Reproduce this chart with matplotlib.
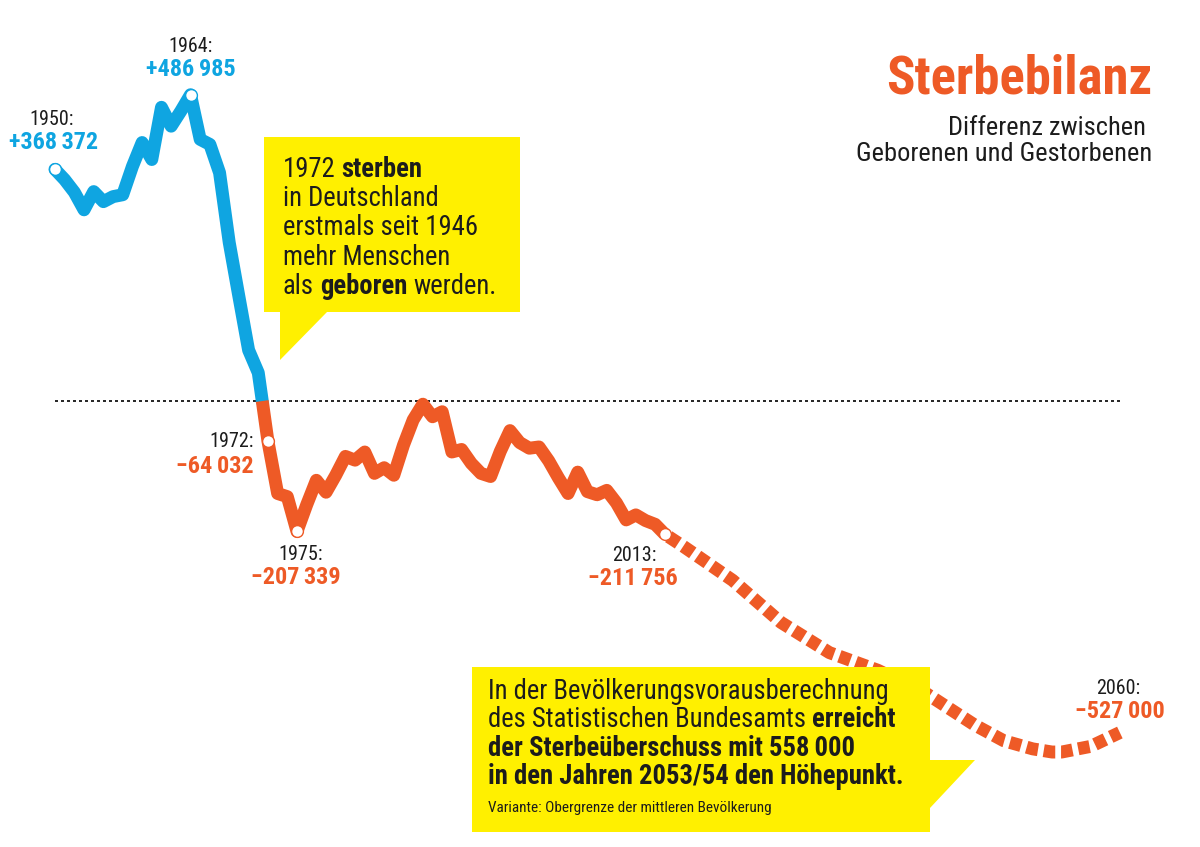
import matplotlib
matplotlib.use("Agg")
import matplotlib.pyplot as plt
from matplotlib import font_manager
from matplotlib.patches import Polygon
import numpy as np

# Daten: Geborene minus Gestorbene
years = list(range(1950, 2014))
saldo = [368372, 352000, 332000, 304000, 333000, 317000, 325000, 328000, 373000, 411000,
         384000, 467000, 437000, 461000, 486985, 416000, 408000, 363000, 252000, 166000,
         81000, 45000, -64032, -147000, -152000, -207339, -165000, -126000, -145000, -118000,
         -88000, -94000, -81000, -115000, -106000, -118000, -70000, -30000, -5000, -25000,
         -17000, -81000, -77000, -99000, -115000, -120000, -80000, -47000, -66000, -75000,
         -73000, -95000, -122000, -147000, -113000, -144000, -149000, -142000, -162000, -189000,
         -181000, -190000, -196000, -211756]

proj_years = [2013, 2015, 2020, 2025, 2030, 2035, 2040, 2045, 2048, 2051, 2053, 2054, 2057, 2060]
proj_vals = [-211756, -232000, -285000, -352000, -400000, -428000, -465000, -515000,
             -540000, -553000, -558000, -558000, -549000, -527000]

dot_years = [1950, 1964, 1972, 1975, 2013]
label_years = [1950, 1964, 1972, 1975, 2013, 2060]

BLUE = "#0FA5E1"
ORANGE = "#EE5A26"
YELLOW = "#FFF000"
INK = "#1c1c1c"

names = {f.name for f in font_manager.fontManager.ttflist}
FONT = next((f for f in ["Liberation Sans Narrow", "Roboto Condensed", "Liberation Sans"] if f in names), "DejaVu Sans")
plt.rcParams["font.family"] = [FONT, "DejaVu Sans"]

W, H = 1200, 847
fig = plt.figure(figsize=(12, 8.47), dpi=100)
ax = fig.add_axes([0, 0, 1, 1])
ax.set_xlim(1944.32, 2068.28)
ax.set_ylim(-709000, 637600)
ax.axis("off")

yrs = np.array(years)
vals = np.array(saldo, dtype=float)

# Nulldurchgang 1971/72
i = np.where(vals < 0)[0][0]
x0 = yrs[i - 1] + vals[i - 1] / (vals[i - 1] - vals[i])
bx = np.r_[yrs[:i], x0]
by = np.r_[vals[:i], 0]
ox = np.r_[x0, yrs[i:]]
oy = np.r_[0, vals[i:]]

LW = 9.3
ax.plot([years[0], proj_years[-1]], [0, 0], color="black", lw=1.2,
        linestyle=(0, (1.8, 1.8)), zorder=1)

ax.plot(proj_years, proj_vals, color=ORANGE, lw=LW, linestyle=(1.0, (0.9, 0.45)),
        dash_capstyle="butt", zorder=2)
ax.plot(bx, by, color=BLUE, lw=LW, solid_capstyle="round", solid_joinstyle="round", zorder=3)
ax.plot(ox, oy, color=ORANGE, lw=LW, solid_capstyle="butt", solid_joinstyle="round", zorder=3)

for y in dot_years:
    v = saldo[years.index(y)]
    ax.plot(y, v, "o", ms=8.5, mfc="white", mec=BLUE if v > 0 else ORANGE, mew=1.0, zorder=4)


def fmt(v):
    s = f"{abs(v):,}".replace(",", "\u2009")
    return ("+" if v > 0 else "\u2212") + s


# Offsets (px) fuer Jahr und Wert
offsets = {
    1950: ((-3, 50, "center"), (-1, 27, "center")),
    1964: ((0, 48, "center"), (0, 25, "center")),
    1972: ((-14, 0, "right"), (-14, -25, "right")),
    1975: ((4, -23, "center"), (-1, -46, "center")),
    2013: ((-8, -21, "right"), (-32, -44, "center")),
    2060: ((-2, 44, "center"), (0, 21, "center")),
}
for y in label_years:
    v = saldo[years.index(y)] if y in years else proj_vals[proj_years.index(y)]
    (dx1, dy1, ha1), (dx2, dy2, ha2) = offsets[y]
    ax.annotate(f"{y}:", (y, v), xytext=(dx1, dy1), textcoords="offset pixels",
                ha=ha1, va="center", fontsize=14.5, color=INK)
    ax.annotate(fmt(v), (y, v), xytext=(dx2, dy2), textcoords="offset pixels",
                ha=ha2, va="center", fontsize=17.5, fontweight="bold",
                color=BLUE if v > 0 else ORANGE)


def P(x, y):
    return (x / W, 1 - y / H)


ax.text(*P(1152, 93), "Sterbebilanz", transform=ax.transAxes, ha="right", va="baseline",
        fontsize=38, fontweight="bold", color=ORANGE)
ax.text(*P(1146, 135), "Differenz zwischen", transform=ax.transAxes, ha="right",
        va="baseline", fontsize=19, color=INK)
ax.text(*P(1152, 161), "Geborenen und Gestorbenen", transform=ax.transAxes, ha="right",
        va="baseline", fontsize=19, color=INK)

# Sprechblasen
box1 = [(264, 137), (520, 137), (520, 312), (327, 312), (280, 360), (280, 312), (264, 312)]
box2 = [(472, 667), (930, 667), (930, 760), (975, 760), (930, 808), (930, 832), (472, 832)]
for b in (box1, box2):
    ax.add_patch(Polygon([P(x, y) for x, y in b], closed=True, transform=ax.transAxes,
                         facecolor=YELLOW, edgecolor="none", zorder=5))

renderer = fig.canvas.get_renderer()


def width(s, size, weight):
    t = ax.text(0, 0, s, fontsize=size, fontweight=weight, transform=ax.transAxes)
    w = t.get_window_extent(renderer).width
    t.remove()
    return w


def rich(x, y, parts, size):
    cx = x
    for k, (s, bold) in enumerate(parts):
        wt = "bold" if bold else "normal"
        t = ax.text(*P(cx, y), s, transform=ax.transAxes, fontsize=size, fontweight=wt,
                    ha="left", va="baseline", color=INK, zorder=6)
        cx += t.get_window_extent(renderer).width
        if k < len(parts) - 1:
            cx += width("x x", size, wt) - width("xx", size, wt)


lines1 = [
    [("1972", False), ("sterben", True)],
    [("in Deutschland", False)],
    [("erstmals seit 1946", False)],
    [("mehr Menschen", False)],
    [("als", False), ("geboren", True), ("werden.", False)],
]
for k, parts in enumerate(lines1):
    rich(283, 177 + k * 29.2, parts, 19.2)

lines2 = [
    [("In der Bevölkerungsvorausberechnung", False)],
    [("des Statistischen Bundesamts", False), ("erreicht", True)],
    [("der Sterbeüberschuss mit 558\u2009000", True)],
    [("in den Jahren 2053/54 den Höhepunkt.", True)],
]
for k, parts in enumerate(lines2):
    rich(488, 699 + k * 28.3, parts, 19.2)
rich(488, 812, [("Variante: Obergrenze der mittleren Bevölkerung", False)], 11)

fig.savefig("out.png", dpi=100)
